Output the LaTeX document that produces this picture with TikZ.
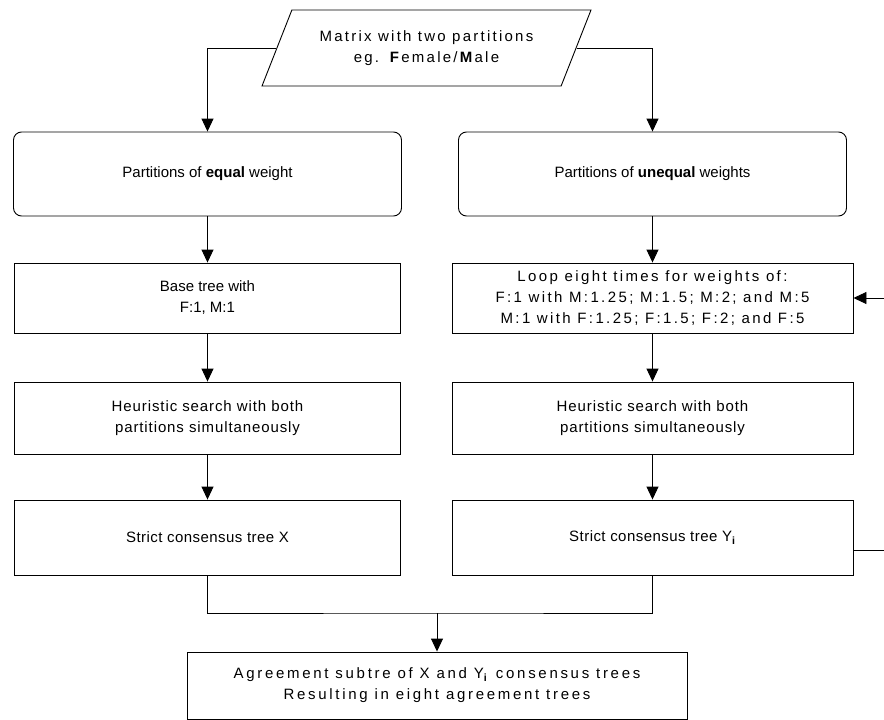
\documentclass[tikz,border=0pt]{standalone}
\usepackage{fontspec}
\setmainfont{Liberation Sans}
\usetikzlibrary{shapes.geometric,arrows.meta}
\begin{document}
\begin{tikzpicture}[x=1pt,y=-1pt,>={Triangle[length=13pt,width=12pt]},
    box/.style={rectangle,draw=black,line width=0.9pt,align=center,inner sep=0pt,font=\fontsize{15}{21}\selectfont},
    rbox/.style={box,rounded corners=8pt},
    spaced/.style={font=\fontsize{15}{21}\selectfont\addfontfeatures{LetterSpace=#1}}]
    \useasboundingbox (0,0) rectangle (884,720);
    \node[box,spaced=15,trapezium,trapezium left angle=49.5,trapezium right angle=130.5,trapezium stretches body,minimum width=329pt,minimum height=76pt](mat)at(426.5,48){Matrix with two partitions\\eg. \textbf{F}emale/\textbf{M}ale};
    \node[rbox,minimum width=388pt,minimum height=84pt](eq)at(207.5,174){Partitions of \textbf{equal} weight};
    \node[rbox,minimum width=388pt,minimum height=84pt](uneq)at(652.5,174){Partitions of \textbf{unequal} weights};
    \node[box,minimum width=386pt,minimum height=70pt](base)at(207.5,298){Base tree with\\F:1, M:1};
    \node[box,spaced=16,minimum width=401pt,minimum height=70pt](loop)at(652.5,298){Loop eight times for weights of:\\F:1 with M:1.25; M:1.5; M:2; and M:5\\M:1 with F:1.25; F:1.5; F:2; and F:5};
    \node[box,spaced=6,minimum width=386pt,minimum height=72pt](heurL)at(207.5,418){Heuristic search with both\\partitions simultaneously};
    \node[box,spaced=6,minimum width=401pt,minimum height=72pt](heurR)at(652.5,418){Heuristic search with both\\partitions simultaneously};
    \node[box,spaced=3,minimum width=386pt,minimum height=75pt](strictL)at(207.5,537.5){Strict consensus tree X};
    \node[box,spaced=3,minimum width=401pt,minimum height=75pt](strictR)at(652.5,537.5){Strict consensus tree Y\textsubscript{\textbf{i}}};
    \node[box,spaced=18,minimum width=500pt,minimum height=67pt](agree)at(437,685.5){Agreement subtre of X and Y\textsubscript{\textbf{i}} consensus trees\\Resulting in eight agreement trees};
    \coordinate(mrg)at(437,613);
    \draw[line width=0.9pt,->] (mat.west) -| (eq.north);
    \draw[line width=0.9pt,->] (mat.east) -| (uneq.north);
    \draw[line width=0.9pt,->] (eq) -- (base);
    \draw[line width=0.9pt,->] (uneq) -- (loop);
    \draw[line width=0.9pt,->] (base) -- (heurL);
    \draw[line width=0.9pt,->] (loop) -- (heurR);
    \draw[line width=0.9pt,->] (heurL) -- (strictL);
    \draw[line width=0.9pt,->] (heurR) -- (strictR);
    \draw[line width=0.9pt,->] ([yshift=-12.5pt]strictR.east) -- ++(40,0) |- (loop.east);
    \draw[line width=0.9pt] (strictL.south) |- (mrg) -| (strictR.south);
    \draw[line width=0.9pt,->] (mrg) -- (agree.north);
\end{tikzpicture}
\end{document}
